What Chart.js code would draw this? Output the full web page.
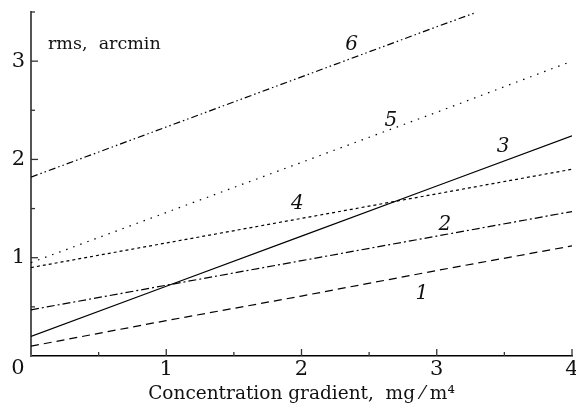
<!DOCTYPE html>
<html>
<head>
<meta charset="utf-8">
<script src="https://cdn.jsdelivr.net/npm/chart.js@4"></script>
<style>
  html, body { margin: 0; padding: 0; background: #fff; }
  #wrap { width: 576px; height: 405px; position: relative; }
</style>
</head>
<body>
<div id="wrap"><canvas id="grafico"></canvas></div>
<script>
const xValues = [0, 1, 2, 3, 4];
const xValues6 = [0, 1, 2, 3, 3.28];
const curve1 = [0.10, 0.36, 0.61, 0.87, 1.12];
const curve2 = [0.47, 0.72, 0.97, 1.22, 1.47];
const curve3 = [0.20, 0.71, 1.22, 1.73, 2.24];
const curve4 = [0.90, 1.15, 1.40, 1.65, 1.90];
const curve5 = [0.95, 1.46, 1.97, 2.48, 3.00];
const curve6 = [1.82, 2.33, 2.84, 3.35, 3.49];
const curveNames = ['1', '2', '3', '4', '5', '6'];
const namePos = [[2.89, 0.63], [3.06, 1.34], [3.49, 2.13], [1.97, 1.55], [2.66, 2.39], [2.37, 3.17]];
const yTickLabels = ['1', '2', '3'];
const xTickLabels = ['1', '2', '3', '4'];

const serif = '"DejaVu Serif", "Liberation Serif", serif';

function pts(xs, ys) {
  return xs.map((x, i) => ({ x: x, y: ys[i] }));
}

function serie(xs, ys, dash) {
  return {
    data: pts(xs, ys),
    borderColor: '#000',
    borderWidth: 1.2,
    borderDash: dash,
    pointRadius: 0,
    fill: false,
    tension: 0
  };
}

// inside tick marks, curve numbers and the lone "0"
const extras = {
  id: 'extras',
  afterDraw(chart) {
    const c = chart.ctx;
    const xs = chart.scales.x;
    const ys = chart.scales.y;
    const ca = chart.chartArea;
    c.save();
    c.strokeStyle = '#333';
    c.lineWidth = 1.3;
    for (let v = 0.5; v <= 3.5; v += 0.5) {
      const py = ys.getPixelForValue(v);
      const len = Number.isInteger(v) ? 7 : 4;
      c.beginPath(); c.moveTo(ca.left, py); c.lineTo(ca.left + len, py); c.stroke();
    }
    for (let v = 0.5; v <= 4; v += 0.5) {
      const px = xs.getPixelForValue(v);
      const len = Number.isInteger(v) ? 7 : 4;
      c.beginPath(); c.moveTo(px, ca.bottom); c.lineTo(px, ca.bottom - len); c.stroke();
    }
    c.fillStyle = '#111';
    c.font = 'italic 20px ' + serif;
    c.textAlign = 'center';
    c.textBaseline = 'middle';
    curveNames.forEach((n, i) => {
      c.fillText(n, xs.getPixelForValue(namePos[i][0]), ys.getPixelForValue(namePos[i][1]));
    });
    c.font = '21px ' + serif;
    c.fillText('0', 18, ca.bottom + 13);
    c.font = '17.5px ' + serif;
    c.textAlign = 'left';
    c.fillText('rms,  arcmin', 48, 44);
    c.restore();
  }
};

new Chart(document.getElementById('grafico'), {
  type: 'line',
  data: {
    datasets: [
      serie(xValues, curve1, [8, 5]),
      serie(xValues, curve2, [8, 3, 2, 3]),
      serie(xValues, curve3, []),
      serie(xValues, curve4, [3, 3]),
      serie(xValues, curve5, [1.5, 6]),
      serie(xValues6, curve6, [7, 3, 1.5, 3, 1.5, 3])
    ]
  },
  options: {
    responsive: true,
    maintainAspectRatio: false,
    animation: false,
    layout: { padding: { top: 12, right: 4, left: 0, bottom: 0 } },
    plugins: {
      legend: { display: false },
      tooltip: { enabled: false }
    },
    scales: {
      x: {
        type: 'linear',
        min: 0,
        max: 4,
        grid: { display: false, drawTicks: false },
        border: { display: true, color: '#000', width: 1.6 },
        ticks: {
          stepSize: 1,
          autoSkip: false,
          maxRotation: 0,
          padding: 1,
          color: '#111',
          font: { family: serif, size: 21 },
          callback: v => xTickLabels.includes(String(v)) ? String(v) : ''
        },
        title: {
          display: true,
          text: 'Concentration gradient,  mg ⁄ m⁴',
          color: '#111',
          font: { family: serif, size: 18.5 },
          padding: { top: 0, bottom: 0 }
        },
        afterFit: s => { s.height = 49; s.paddingLeft = 0; s.paddingRight = 0; }
      },
      y: {
        type: 'linear',
        min: 0,
        max: 3.5,
        grid: { display: false, drawTicks: false },
        border: { display: true, color: '#555', width: 2 },
        ticks: {
          stepSize: 0.5,
          autoSkip: false,
          padding: 6,
          color: '#111',
          font: { family: serif, size: 21 },
          callback: v => yTickLabels.includes(String(v)) ? String(v) : ''
        },
        afterFit: s => { s.width = 31; s.paddingTop = 0; s.paddingBottom = 0; }
      }
    }
  },
  plugins: [extras]
});
</script>
</body>
</html>
